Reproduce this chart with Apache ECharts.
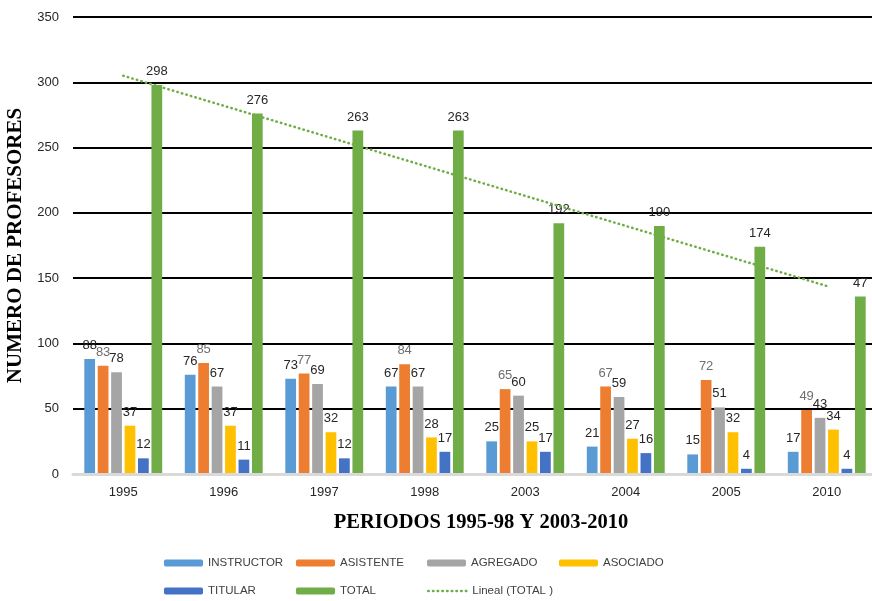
<!DOCTYPE html>
<html>
<head>
<meta charset="utf-8">
<script src="https://cdn.jsdelivr.net/npm/echarts@6/dist/echarts.min.js"></script>
<style>
  html, body { margin: 0; padding: 0; background: #fff; }
  #chart { width: 872px; height: 601px; }
</style>
</head>
<body>
<div id="chart"></div>
<script>
const categories = ['1995', '1996', '1997', '1998', '2003', '2004', '2005', '2010'];
const instructor = [88, 76, 73, 67, 25, 21, 15, 17];
const asistente  = [83, 85, 77, 84, 65, 67, 72, 49];
const agregado   = [78, 67, 69, 67, 60, 59, 51, 43];
const asociado   = [37, 37, 32, 28, 25, 27, 32, 34];
const titular    = [12, 11, 12, 17, 17, 16, 4, 4];
const total      = [298, 276, 263, 263, 192, 190, 174, 136];
const totalLabels = ['298', '276', '263', '263', '192', '190', '174', '47'];
// Linear trend (Lineal TOTAL) endpoints
const trend = [305, '-', '-', '-', '-', '-', '-', 144];
const yTicks = [0, 50, 100, 150, 200, 250, 300, 350];

const seriesNames = ['INSTRUCTOR', 'ASISTENTE', 'AGREGADO', 'ASOCIADO', 'TITULAR', 'TOTAL', 'Lineal (TOTAL )'];
const colors = ['#5B9BD5', '#ED7D31', '#A5A5A5', '#FFC000', '#4472C4', '#70AD47', '#70AD47'];
const barData = [instructor, asistente, agregado, asociado, titular, total];

const labelFont = { fontFamily: 'Liberation Sans', fontSize: 13 };

const series = barData.map((d, i) => ({
  name: seriesNames[i],
  type: 'bar',
  data: d,
  barCategoryGap: '22.5%',
  barGap: '25%',
  itemStyle: { color: colors[i] },
  label: Object.assign({
    show: true,
    position: 'top',
    distance: 7,
    color: i === 1 ? '#6f6f6f' : '#262626',
    formatter: i === 5 ? (p => totalLabels[p.dataIndex]) : '{c}'
  }, labelFont)
}));
series.push({
  name: seriesNames[6],
  type: 'line',
  data: trend,
  connectNulls: true,
  symbol: 'none',
  silent: true,
  z: 5,
  lineStyle: { color: '#70AD47', width: 2.5, type: [0.5, 4.2], cap: 'round' },
  itemStyle: { color: '#70AD47' }
});

// legend layout: two rows, four columns
const colX = [164, 296, 427, 559];
const rowY = [557, 585];
const legends = seriesNames.map((n, i) => {
  const lg = {
    data: [n],
    left: colX[i % 4],
    top: rowY[Math.floor(i / 4)],
    padding: 0,
    itemWidth: 39,
    itemHeight: 7,
    itemGap: 0,
    selectedMode: false,
    textStyle: { fontFamily: 'Liberation Sans', fontSize: 11.5, color: '#404040', padding: [0, 0, 0, 0] }
  };
  if (i === 6) {
    lg.itemStyle = { opacity: 0 };
    lg.lineStyle = { color: '#70AD47', width: 2.5, type: [0.5, 4.2], cap: 'round' };
  }
  return lg;
});

const chart = echarts.init(document.getElementById('chart'), null, { renderer: 'canvas' });
chart.setOption({
  animation: false,
  color: colors,
  grid: { left: 73, top: 17, width: 804, height: 457, containLabel: false, outerBoundsMode: 'none' },
  legend: legends,
  title: [
    {
      text: 'PERIODOS 1995-98 Y 2003-2010',
      left: 476, top: 507, textAlign: 'center',
      textStyle: { fontFamily: 'Liberation Serif', fontWeight: 'bold', fontSize: 20.5, color: '#000' }
    }
  ],
  xAxis: {
    type: 'category',
    data: categories,
    z: 3,
    axisLine: { lineStyle: { color: '#d9d9d9', width: 3 } },
    axisTick: { show: false },
    axisLabel: Object.assign({ color: '#262626', margin: 12 }, labelFont)
  },
  yAxis: {
    type: 'value',
    min: yTicks[0],
    max: yTicks[yTicks.length - 1],
    interval: 50,
    name: 'NUMERO DE PROFESORES',
    nameLocation: 'middle',
    nameRotate: 90,
    nameGap: 39,
    nameTextStyle: { fontFamily: 'Liberation Serif', fontWeight: 'bold', fontSize: 21, color: '#000' },
    axisLine: { show: false },
    axisTick: { show: false },
    axisLabel: Object.assign({ color: '#262626', margin: 14 }, labelFont),
    splitLine: { lineStyle: { color: '#000', width: 2 } }
  },
  series: series
});
</script>
</body>
</html>
